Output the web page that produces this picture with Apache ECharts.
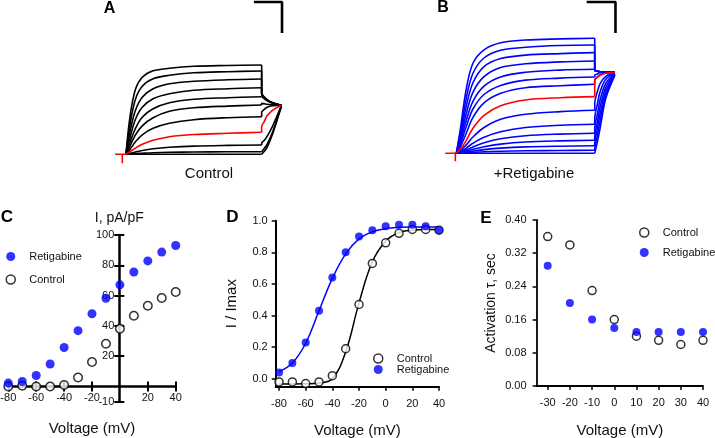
<!DOCTYPE html>
<html>
<head>
<meta charset="utf-8">
<script src="https://cdn.jsdelivr.net/npm/echarts@6/dist/echarts.min.js"></script>
<style>
html,body{margin:0;padding:0;background:#fff}
#main{width:715px;height:438px}
</style>
</head>
<body>
<div id="main"></div>
<script>
// time points of the test pulse (fraction of pulse) and of the tail
var tStep = [0, 0.03, 0.07, 0.12, 0.2, 0.32, 0.5, 0.75, 1.0];
var tTail = [1.0, 1.0, 1.02, 1.04, 1.08, 1.145];

// A: control current traces, index 7 is the red sweep
var ctrlStep = [
  [0, 38, 65, 77, 83.5, 86, 88, 88.8, 89.3],
  [0, 30, 55, 68, 75.5, 79, 81.5, 82.6, 83.3],
  [0, 23, 44, 57, 65.5, 70.5, 73, 74.5, 75.3],
  [0, 17, 35, 47, 55.5, 60.5, 64, 65.6, 66.6],
  [0, 12, 26, 37, 45.5, 51.5, 55, 56.6, 57.6],
  [0, 8.5, 19.5, 28.5, 36.5, 43, 46.5, 48.2, 49.3],
  [0, 5, 12.5, 19.5, 26, 31, 34.6, 36.6, 37.6],
  [0, 2.6, 6.2, 10, 14, 17.6, 19.8, 21, 22],
  [0, 1, 2.3, 3.8, 5.5, 7, 8.2, 8.9, 9.3],
  [0, 0.3, 0.7, 1.1, 1.6, 2, 2.3, 2.5, 2.6],
  [0, 0, 0, 0, 0, 0, 0, 0, 0]
];
var ctrlTail = [
  [61, 57, 54.5, 51.5, 49],
  [61, 57, 54.5, 51.5, 49],
  [61, 57, 54.5, 51.5, 49],
  [60, 56.5, 54, 51.5, 49],
  [57.6, 55.5, 53.5, 51, 49],
  [51, 50.5, 50, 49.5, 49],
  [42, 45, 47, 48.5, 49],
  [27.6, 33, 38.5, 44, 49],
  [11, 14, 18, 28, 49],
  [3, 6, 10, 22, 48],
  [0, 3, 7, 20, 48]
];
var ctrlRed = 7;

// B: retigabine current traces, index 7 is the red sweep
var retStep = [
  [0, 25, 63, 90, 103.5, 110.5, 113.3, 114.4, 115],
  [0, 21.7, 54, 80, 95.3, 103, 106, 107.8, 108.3],
  [0, 18, 46, 70.5, 86.6, 94.7, 98.2, 99.7, 100.7],
  [0, 14.8, 38.8, 61, 76.6, 85.8, 89.5, 91.4, 92.3],
  [0, 11.8, 32, 52, 67.2, 76.4, 81, 83.2, 84],
  [0, 9.2, 26, 44.3, 58.8, 67.9, 73.2, 75.2, 76.3],
  [0, 6.9, 19.3, 35.9, 50.4, 60, 65.6, 67.6, 69],
  [0, 4.5, 12.5, 25, 38, 47.6, 53.3, 55.6, 56.7],
  [0, 3, 8.2, 16.3, 25.8, 34, 39.1, 41.7, 43],
  [0, 1.8, 5, 10, 16, 21.5, 25.8, 28, 29],
  [0, 1.1, 3.2, 6.4, 10.5, 14.5, 17.6, 19.2, 20],
  [0, 0.7, 2, 4, 6.6, 9.2, 11.3, 12.4, 13],
  [0, 0.4, 1.1, 2.2, 3.7, 5.2, 6.4, 7.1, 7.5],
  [0, 0.2, 0.4, 0.9, 1.5, 2, 2.5, 2.8, 3],
  [0, 0, 0, 0, 0, 0, 0, 0, 0]
];
var retTail = [
  [83, 82, 81.5, 81, 81],
  [83, 82, 81.5, 81, 81],
  [83, 82, 81.5, 81, 81],
  [83, 82, 81.5, 81, 81],
  [83, 82, 81.5, 81, 81],
  [78, 79.5, 80.5, 81, 81],
  [73, 76.5, 78.5, 80.5, 81],
  [73.3, 76, 78, 80, 81],
  [50, 62, 70, 77, 81],
  [34, 50, 62, 74, 80.5],
  [24, 40, 54, 70, 80],
  [16, 32, 47, 66, 79.5],
  [9, 25, 40, 62, 79],
  [4, 18, 33, 58, 78.5],
  [0, 12, 26, 55, 78]
];
var retRed = 7;

// holding segment + capacitive blip before the pulse, and scale bars
var holdA = [[-0.08, 0], [-0.027, 0], [-0.027, -9], [-0.027, 0], [0, 0]];
var holdB = [[-0.08, 0], [-0.007, 0], [-0.007, -8], [-0.007, 0], [0, 0]];
var scaleA = [[0.943, 152.3], [1.15, 152.3], [1.15, 121.3]];
var scaleB = [[0.942, 151.3], [1.15, 151.3], [1.15, 120.3]];

// C: I-V, pA/pF
var vC = [-80, -70, -60, -50, -40, -30, -20, -10, 0, 10, 20, 30, 40];
var ctrlC = [0, 0.5, 0, 0, 1, 6, 16.2, 28.2, 38.2, 46.7, 53.3, 58.4, 62.4];
var retC = [2.3, 3.3, 7.3, 14.9, 25.8, 36.9, 48, 58.3, 67.1, 75.6, 82.9, 88.7, 93.1];
var ticksCx = [-80, -60, -40, -20, 20, 40];
var ticksCy = [-10, 20, 40, 60, 80, 100];

// D: activation curves (points + fitted curves)
var vD = [-80, -70, -60, -50, -40, -30, -20, -10, 0, 10, 20, 30, 40];
var ctrlD = [-0.02, -0.02, -0.03, -0.02, 0.02, 0.19, 0.47, 0.73, 0.86, 0.92, 0.945, 0.945, 0.94];
var retD = [0.04, 0.10, 0.23, 0.43, 0.64, 0.80, 0.90, 0.94, 0.965, 0.975, 0.975, 0.965, 0.94];
var ctrlFitD = [-0.033, -0.033, -0.032, -0.027, 0.0, 0.17, 0.48, 0.74, 0.87, 0.925, 0.94, 0.945, 0.945];
var retFitD = [0.045, 0.10, 0.225, 0.43, 0.635, 0.79, 0.885, 0.93, 0.95, 0.958, 0.96, 0.96, 0.96];
var ticksDx = [-80, -60, -40, -20, 0, 20, 40];
var ticksDy = [0, 0.2, 0.4, 0.6, 0.8, 1.0];

// E: activation tau, sec
var vE = [-30, -20, -10, 0, 10, 20, 30, 40];
var ctrlE = [0.36, 0.34, 0.23, 0.16, 0.12, 0.11, 0.10, 0.11];
var retE = [0.29, 0.20, 0.16, 0.14, 0.13, 0.13, 0.13, 0.13];
var ticksEx = [-30, -20, -10, 0, 10, 20, 30, 40];
var ticksEy = [0, 0.08, 0.16, 0.24, 0.32, 0.40];

var FONT = '"Liberation Sans", Arial, sans-serif';
var TXT = '#111';
var BLUE = '#0000ff';
var RED = '#ff0000';

var chart = echarts.init(document.getElementById('main'));

function pairs(xs, ys) {
  return xs.map(function (x, i) { return [x, ys[i]]; });
}

function traceSeries(stepArr, tailArr, idx, redIdx, color) {
  var out = [];
  stepArr.forEach(function (vals, i) {
    var c = i === redIdx ? RED : color;
    var z = i === redIdx ? 5 : 2;
    var last = vals[vals.length - 1];
    var tail = [[tTail[0], last]].concat(tailArr[i].map(function (v, j) { return [tTail[j + 1], v]; }));
    [pairs(tStep, vals), tail].forEach(function (d) {
      out.push({
        type: 'line', xAxisIndex: idx, yAxisIndex: idx, data: d,
        smooth: 0.35, symbol: 'none', silent: true, z: z, clip: false,
        lineStyle: { color: c, width: 1.6 }
      });
    });
  });
  return out;
}

function plainLine(idx, data, color, w) {
  return {
    type: 'line', xAxisIndex: idx, yAxisIndex: idx, data: data, symbol: 'none',
    silent: true, clip: false, z: 6, lineStyle: { color: color, width: w }
  };
}

var openStyle = { color: '#fff', borderColor: '#000', borderWidth: 1.5 };
var fillStyle = { color: BLUE, borderWidth: 0 };

function lbl(size) {
  return { fontSize: size, color: TXT, fontFamily: FONT };
}

function hiddenAxis(grid, min, max) {
  return { gridIndex: grid, type: 'value', min: min, max: max, show: false };
}

var series = []
  .concat(traceSeries(ctrlStep, ctrlTail, 0, ctrlRed, '#000'))
  .concat(traceSeries(retStep, retTail, 1, retRed, BLUE))
  .concat([
    plainLine(0, holdA, RED, 1.6),
    plainLine(1, holdB, RED, 1.6),
    plainLine(0, scaleA, '#000', 2.6),
    plainLine(1, scaleB, '#000', 2.6),
    // C
    { type: 'scatter', name: 'Control', xAxisIndex: 2, yAxisIndex: 2, data: pairs(vC, ctrlC),
      symbolSize: 8.5, itemStyle: openStyle, z: 3 },
    { type: 'scatter', name: 'Retigabine', xAxisIndex: 2, yAxisIndex: 2, data: pairs(vC, retC),
      symbolSize: 9, itemStyle: fillStyle, z: 4 },
    // D
    { type: 'line', name: 'Control fit', xAxisIndex: 4, yAxisIndex: 4, data: pairs(vD, ctrlFitD),
      smooth: 0.4, symbol: 'none', lineStyle: { color: '#000', width: 1.5 }, z: 2 },
    { type: 'line', name: 'Retigabine fit', xAxisIndex: 4, yAxisIndex: 4, data: pairs(vD, retFitD),
      smooth: 0.4, symbol: 'none', lineStyle: { color: BLUE, width: 1.5 }, z: 2 },
    { type: 'scatter', name: 'Control', xAxisIndex: 4, yAxisIndex: 4, data: pairs(vD, ctrlD),
      symbolSize: 8, itemStyle: openStyle, z: 3 },
    { type: 'scatter', name: 'Retigabine', xAxisIndex: 4, yAxisIndex: 4, data: pairs(vD, retD),
      symbolSize: 8, itemStyle: fillStyle, z: 4 },
    // E
    { type: 'scatter', name: 'Control', xAxisIndex: 5, yAxisIndex: 5, data: pairs(vE, ctrlE),
      symbolSize: 8, itemStyle: openStyle, z: 3 },
    { type: 'scatter', name: 'Retigabine', xAxisIndex: 5, yAxisIndex: 5, data: pairs(vE, retE),
      symbolSize: 8, itemStyle: fillStyle, z: 4 }
  ]);

var legendItems = {
  Control: { name: 'Control', icon: 'circle', itemStyle: openStyle },
  Retigabine: { name: 'Retigabine', icon: 'circle', itemStyle: fillStyle }
};

function legendAt(left, top, order, gap) {
  return {
    left: left, top: top, orient: 'vertical', padding: 0, itemGap: gap,
    itemWidth: 9, itemHeight: 9, selectedMode: false,
    textStyle: { fontSize: 11, color: TXT, fontFamily: FONT, padding: [0, 0, 0, 9] },
    data: order.map(function (n) { return legendItems[n]; })
  };
}

var noBounds = { containLabel: false, outerBoundsMode: 'none' };

// C grid: x -80..40 over 8.3..175.7, y -10..100 over 401.7..235; axes cross at 0
var option = {
  animation: false,
  backgroundColor: '#fff',
  grid: [
    Object.assign({ left: 112.4, top: 4.3, width: 176.4, height: 160 }, noBounds),
    Object.assign({ left: 442.5, top: 3.3, width: 179.9, height: 160 }, noBounds),
    Object.assign({ left: 8.3, top: 235, width: 167.4, height: 166.7 }, noBounds),
    Object.assign({ left: 275.7, top: 220.7, width: 163.3, height: 166 }, noBounds),
    Object.assign({ left: 536.6, top: 220, width: 166.4, height: 166 }, noBounds)
  ],
  xAxis: [
    hiddenAxis(0, -0.1, 1.2),
    hiddenAxis(1, -0.1, 1.2),
    { gridIndex: 2, type: 'value', min: -80, max: 40, position: 'bottom', offset: -15.2,
      axisLine: { onZero: false, lineStyle: { color: '#000', width: 2.5 } },
      axisTick: { length: 5, customValues: ticksCx, lineStyle: { color: '#000', width: 2 } },
      axisLabel: Object.assign({ customValues: ticksCx, margin: 6 }, lbl(11)),
      splitLine: { show: false },
      name: 'Voltage (mV)', nameLocation: 'middle', nameGap: 35, nameMoveOverlap: false,
      nameTextStyle: lbl(15) },
    { gridIndex: 2, type: 'value', min: -80, max: 40, position: 'top', offset: -151.5,
      axisLine: { show: false, onZero: false },
      axisTick: { length: 5, customValues: ticksCx, lineStyle: { color: '#000', width: 2 } },
      axisLabel: { show: false }, splitLine: { show: false } },
    { gridIndex: 3, type: 'value', min: -82.5, max: 40,
      axisLine: { onZero: false, lineStyle: { color: '#000', width: 2 } },
      axisTick: { length: 4, customValues: ticksDx, lineStyle: { color: '#000', width: 1.5 } },
      axisLabel: Object.assign({ customValues: ticksDx, margin: 12 }, lbl(11)),
      splitLine: { show: false },
      name: 'Voltage (mV)', nameLocation: 'middle', nameGap: 37, nameMoveOverlap: false,
      nameTextStyle: lbl(15) },
    { gridIndex: 4, type: 'value', min: -35, max: 40,
      axisLine: { onZero: false, lineStyle: { color: '#000', width: 1.8 } },
      axisTick: { length: 4, customValues: ticksEx, lineStyle: { color: '#000', width: 1.5 } },
      axisLabel: Object.assign({ customValues: ticksEx, margin: 11 }, lbl(11)),
      splitLine: { show: false },
      name: 'Voltage (mV)', nameLocation: 'middle', nameGap: 37, nameMoveOverlap: false,
      nameTextStyle: lbl(15) }
  ],
  yAxis: [
    hiddenAxis(0, -10, 150),
    hiddenAxis(1, -10, 150),
    { gridIndex: 2, type: 'value', min: -10, max: 100, position: 'left', offset: -111,
      axisLine: { onZero: false, lineStyle: { color: '#000', width: 2.5 } },
      axisTick: { length: 5, customValues: ticksCy, lineStyle: { color: '#000', width: 2 } },
      axisLabel: Object.assign({ customValues: ticksCy, margin: 5 }, lbl(11)),
      splitLine: { show: false },
      name: 'I, pA/pF', nameLocation: 'end', nameGap: 10, nameMoveOverlap: false,
      nameTextStyle: lbl(14) },
    { gridIndex: 2, type: 'value', min: -10, max: 100, position: 'right', offset: -56.4,
      axisLine: { show: false, onZero: false },
      axisTick: { length: 5, customValues: ticksCy, lineStyle: { color: '#000', width: 2 } },
      axisLabel: { show: false }, splitLine: { show: false } },
    { gridIndex: 3, type: 'value', min: -0.05, max: 1.0,
      axisLine: { onZero: false, lineStyle: { color: '#000', width: 2 } },
      axisTick: { length: 4, customValues: ticksDy, lineStyle: { color: '#000', width: 1.5 } },
      axisLabel: Object.assign({ customValues: ticksDy, margin: 8,
        formatter: function (v) { return v.toFixed(1); } }, lbl(11)),
      splitLine: { show: false },
      name: 'I / Imax', nameLocation: 'middle', nameGap: 36, nameRotate: 90, nameMoveOverlap: false,
      nameTextStyle: lbl(15) },
    { gridIndex: 4, type: 'value', min: 0, max: 0.4,
      axisLine: { onZero: false, lineStyle: { color: '#000', width: 1.8 } },
      axisTick: { length: 4, customValues: ticksEy, lineStyle: { color: '#000', width: 1.5 } },
      axisLabel: Object.assign({ customValues: ticksEy, margin: 10,
        formatter: function (v) { return v.toFixed(2); } }, lbl(11)),
      splitLine: { show: false },
      name: 'Activation \u03c4, sec', nameLocation: 'middle', nameGap: 38, nameRotate: 90,
      nameMoveOverlap: false, nameTextStyle: lbl(14) }
  ],
  legend: [
    legendAt(5.5, 251, ['Retigabine', 'Control'], 12),
    legendAt(373, 353, ['Control', 'Retigabine'], 0),
    legendAt(639, 227, ['Control', 'Retigabine'], 9)
  ],
  graphic: [
    { type: 'text', x: 109.5, y: 9, style: { text: 'A', font: 'bold 16px ' + FONT, fill: '#000', align: 'center', verticalAlign: 'middle' } },
    { type: 'text', x: 443, y: 8, style: { text: 'B', font: 'bold 16px ' + FONT, fill: '#000', align: 'center', verticalAlign: 'middle' } },
    { type: 'text', x: 7, y: 217, style: { text: 'C', font: 'bold 17px ' + FONT, fill: '#000', align: 'center', verticalAlign: 'middle' } },
    { type: 'text', x: 232.5, y: 217.5, style: { text: 'D', font: 'bold 17px ' + FONT, fill: '#000', align: 'center', verticalAlign: 'middle' } },
    { type: 'text', x: 486, y: 218.3, style: { text: 'E', font: 'bold 17px ' + FONT, fill: '#000', align: 'center', verticalAlign: 'middle' } },
    { type: 'text', x: 209, y: 174, style: { text: 'Control', font: '15px ' + FONT, fill: TXT, align: 'center', verticalAlign: 'middle' } },
    { type: 'text', x: 534, y: 174, style: { text: '+Retigabine', font: '15px ' + FONT, fill: TXT, align: 'center', verticalAlign: 'middle' } }
  ],
  series: series
};

chart.setOption(option);
</script>
</body>
</html>
